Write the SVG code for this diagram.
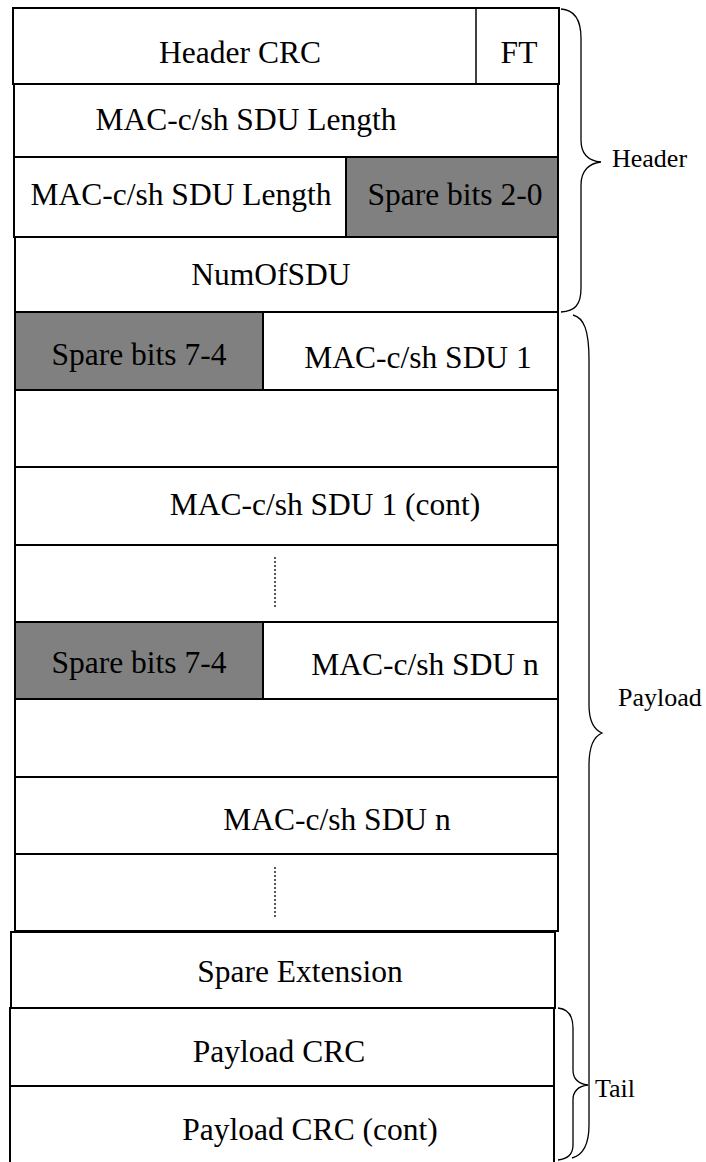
<svg xmlns="http://www.w3.org/2000/svg" width="706" height="1162" viewBox="0 0 706 1162">
<style>
.cell{fill:#fff;stroke:#000;stroke-width:2}
.gray{fill:#808080;stroke:#000;stroke-width:2}
.t{font-family:"Liberation Serif","Times New Roman",serif;font-size:31.5px;fill:#000;text-anchor:middle}
.lbl{font-family:"Liberation Serif","Times New Roman",serif;font-size:26px;fill:#000}
.brace{fill:none;stroke:#000;stroke-width:1.3}
.dot{stroke:#000;stroke-width:1.3;stroke-dasharray:2 2;fill:none}
</style>
<rect width="706" height="1162" fill="#fff"/>
<g id="row1">
<rect class="cell" x="13" y="8" width="546" height="76"/>
<line x1="476" y1="8" x2="476" y2="84" stroke="#000" stroke-width="1.5"/>
<text class="t" x="240" y="63">Header CRC</text>
<text class="t" x="519" y="63">FT</text>
</g>
<g id="row2">
<rect class="cell" x="14" y="84" width="544" height="73"/>
<text class="t" x="246" y="130">MAC-c/sh SDU Length</text>
</g>
<g id="row3">
<rect class="cell" x="14" y="157" width="332" height="80"/>
<rect class="gray" x="346" y="157" width="212" height="80"/>
<text class="t" x="181" y="205">MAC-c/sh SDU Length</text>
<text class="t" x="455" y="205">Spare bits 2-0</text>
</g>
<g id="row4">
<rect class="cell" x="15" y="237" width="543" height="75"/>
<text class="t" x="271" y="285">NumOfSDU</text>
</g>
<g id="row5">
<rect class="cell" x="15" y="312" width="543" height="78"/>
<rect class="gray" x="15" y="312" width="248" height="78"/>
<text class="t" x="139" y="365">Spare bits 7-4</text>
<text class="t" x="418" y="368">MAC-c/sh SDU 1</text>
</g>
<g id="row6">
<rect class="cell" x="15" y="390" width="543" height="77"/>
</g>
<g id="row7">
<rect class="cell" x="15" y="467" width="543" height="78"/>
<text class="t" x="325" y="515">MAC-c/sh SDU 1 (cont)</text>
</g>
<g id="row8">
<rect class="cell" x="15" y="545" width="543" height="77"/>
<line class="dot" x1="275" y1="557" x2="275" y2="607"/>
</g>
<g id="row9">
<rect class="cell" x="15" y="622" width="543" height="77"/>
<rect class="gray" x="15" y="622" width="248" height="77"/>
<text class="t" x="139" y="673">Spare bits 7-4</text>
<text class="t" x="425" y="675">MAC-c/sh SDU n</text>
</g>
<g id="row10">
<rect class="cell" x="15" y="699" width="543" height="78"/>
</g>
<g id="row11">
<rect class="cell" x="15" y="777" width="543" height="77"/>
<text class="t" x="337" y="830">MAC-c/sh SDU n</text>
</g>
<g id="row12">
<rect class="cell" x="15" y="854" width="543" height="77"/>
<line class="dot" x1="275" y1="867" x2="275" y2="917"/>
</g>
<g id="row13">
<rect class="cell" x="11" y="932" width="544" height="76"/>
<text class="t" x="300" y="982">Spare Extension</text>
</g>
<g id="row14">
<rect class="cell" x="10" y="1008" width="544" height="78"/>
<text class="t" x="279" y="1062">Payload CRC</text>
</g>
<g id="row15">
<rect class="cell" x="10" y="1086" width="544" height="90"/>
<text class="t" x="310" y="1140">Payload CRC (cont)</text>
</g>
<g id="connectors">
<path class="brace" d="M561 9 C575 10 581 20 581 38 L581 140 C581 155 590 161 601 162 C590 163 581 170 581 185 L581 288 C581 305 575 311 561 312"/>
<path class="brace" d="M573 315 C584 318 589 330 589 360 L589 705 C589 722 595 730 602 733 C595 736 589 745 589 765 L589 1125 C589 1145 583 1155 572 1158"/>
<path class="brace" d="M558 1008 C568 1009 573 1015 573 1028 L573 1070 C573 1080 580 1084 588 1085 C580 1086 573 1090 573 1100 L573 1145 C573 1154 567 1159 558 1160"/>
</g>
<g id="labels">
<text class="lbl" x="612" y="167">Header</text>
<text class="lbl" x="618" y="706">Payload</text>
<text class="lbl" x="595" y="1097">Tail</text>
</g>
</svg>
